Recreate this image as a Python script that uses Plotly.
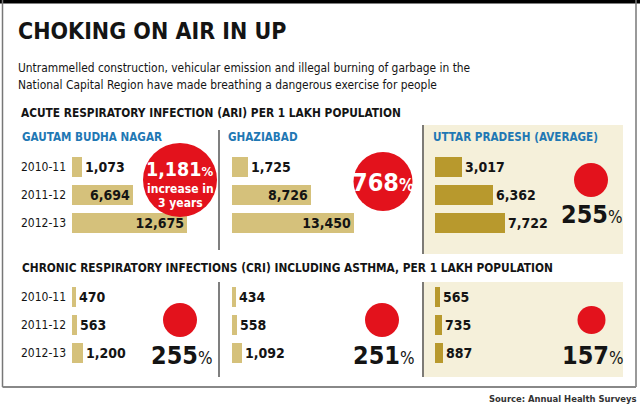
import plotly.graph_objects as go

# ---------------- data ----------------
years = ["2010-11", "2011-12", "2012-13"]
regions = ["GAUTAM BUDHA NAGAR", "GHAZIABAD", "UTTAR PRADESH (AVERAGE)"]
ari_gbn = [1073, 6694, 12675]
ari_gzb = [1725, 8726, 13450]
ari_up = [3017, 6362, 7722]
cri_gbn = [470, 563, 1200]
cri_gzb = [434, 558, 1092]
cri_up = [565, 735, 887]
ari_increase = [1181, 768, 255]
cri_increase = [255, 251, 157]

title = "CHOKING ON AIR IN UP"
subtitle = ["Untrammelled construction, vehicular emission and illegal burning of garbage in the",
            "National Capital Region have made breathing a dangerous exercise for people"]
ari_title = "ACUTE RESPIRATORY INFECTION (ARI) PER 1 LAKH POPULATION"
cri_title = "CHRONIC RESPIRATORY INFECTIONS (CRI) INCLUDING ASTHMA, PER 1 LAKH POPULATION"
source = "Source: Annual Health Surveys"

# ---------------- style ----------------
W, H = 640, 408
NARROW = "Liberation Sans Narrow, Arial Narrow, DejaVu Sans Condensed, sans-serif"
LIGHT = "#d5c17b"
DARK = "#b8992d"
BOX = "#f5f0da"
RED = "#e3121c"
BLUE = "#1f78b4"
INK = "#141414"
PX_PER_UNIT = 0.00905
AX_W = 140


def px(x):
    return x / W


def py(y):
    return 1 - y / H


fig = go.Figure()

panels = [
    # values, x start px, (top, bottom) px, colour, text positions
    (ari_gbn, 72, (153, 237), LIGHT, ["outside", "inside", "inside"]),
    (ari_gzb, 232, (153, 237), LIGHT, ["outside", "inside", "inside"]),
    (ari_up, 435, (153, 237), DARK, ["outside"] * 3),
    (cri_gbn, 72, (283, 367), LIGHT, ["outside"] * 3),
    (cri_gzb, 232, (283, 367), LIGHT, ["outside"] * 3),
    (cri_up, 435, (283, 367), DARK, ["outside"] * 3),
]

layout_axes = {}
for i, (vals, x0, (top, bot), col, tpos) in enumerate(panels):
    n = "" if i == 0 else str(i + 1)
    fig.add_trace(go.Bar(
        x=vals, y=[0, 1, 2], orientation="h",
        xaxis="x" + n, yaxis="y" + n,
        marker=dict(color=col, line=dict(width=0)),
        width=0.68,
        text=[f"{v:,}" for v in vals],
        textposition=tpos,
        insidetextanchor="end",
        constraintext="none",
        textfont=dict(family=NARROW, size=14, color=INK, weight="bold"),
        cliponaxis=False,
        hoverinfo="skip",
    ))
    layout_axes["xaxis" + n] = dict(
        domain=[px(x0), px(x0 + AX_W)], range=[0, AX_W / PX_PER_UNIT],
        anchor="y" + n, visible=False, fixedrange=True)
    layout_axes["yaxis" + n] = dict(
        domain=[py(bot), py(top)], range=[2.5, -0.5],
        anchor="x" + n, visible=False, fixedrange=True)

fig.update_layout(**layout_axes)

shapes = []
# UP boxes
for (y0, y1) in [(125, 254), (282, 377)]:
    shapes.append(dict(type="rect", xref="paper", yref="paper", layer="below",
                       x0=px(422), x1=px(623), y0=py(y1), y1=py(y0),
                       fillcolor=BOX, line=dict(width=0)))
    shapes.append(dict(type="line", xref="paper", yref="paper", layer="below",
                       x0=px(423), x1=px(423), y0=py(y1), y1=py(y0),
                       line=dict(color="#555", width=1.5)))
# dividers
for (y0, y1) in [(130, 250), (282, 377)]:
    shapes.append(dict(type="line", xref="paper", yref="paper",
                       x0=px(219), x1=px(219), y0=py(y1), y1=py(y0),
                       line=dict(color="#555", width=1.5)))
# frame
shapes.append(dict(type="rect", xref="paper", yref="paper", x0=0, x1=1,
                   y0=py(3.5), y1=1, fillcolor="#000", line=dict(width=0)))
shapes.append(dict(type="line", xref="paper", yref="paper", x0=px(2.5), x1=px(2.5),
                   y0=py(387), y1=1, line=dict(color="#777", width=1.5)))
shapes.append(dict(type="line", xref="paper", yref="paper", x0=px(636), x1=px(636),
                   y0=py(387), y1=1, line=dict(color="#777", width=1.5)))
shapes.append(dict(type="line", xref="paper", yref="paper", x0=px(2.5), x1=px(636),
                   y0=py(387), y1=py(387), line=dict(color="#888", width=2)))

# red badges: (cx, cy, r)
badges = [(180, 180, 37), (383, 181.5, 29.5), (591, 180, 17),
          (180, 320, 17), (382, 320, 17), (591.5, 320, 14)]
for cx, cy, r in badges:
    shapes.append(dict(type="circle", xref="paper", yref="paper",
                       x0=px(cx - r), x1=px(cx + r), y0=py(cy + r), y1=py(cy - r),
                       fillcolor=RED, line=dict(width=0)))
fig.update_layout(shapes=shapes)

ann = []


def text(x, y, s, size, color=INK, bold=True, xa="left", family=NARROW):
    ann.append(dict(x=px(x), y=py(y), xref="paper", yref="paper", text=s,
                    showarrow=False, xanchor=xa, yanchor="middle",
                    borderpad=0, font=dict(family=family, size=size, color=color,
                                           weight="bold" if bold else "normal")))


text(17, 31, title, 23)
text(17, 68, subtitle[0], 11.9, bold=False)
text(17, 85, subtitle[1], 11.9, bold=False)
text(20, 113, ari_title, 11.8)
text(21, 268, cri_title, 11.8)
text(21, 137, regions[0], 11.6, color=BLUE)
text(227, 137, regions[1], 11.6, color=BLUE)
text(432, 137, regions[2], 11.6, color=BLUE)
text(637, 398, source, 9.4, color="#333", xa="right")

for cy in [(167, 195, 223), (297, 325, 353)]:
    for yr, y in zip(years, cy):
        text(67, y, yr, 12, bold=False, xa="right")

# badge texts
pct_small = "<span style='font-size:{}px'>%</span>"
pct_light = "<span style='font-size:{}px;font-weight:normal'>%</span>"
text(180, 169, f"{ari_increase[0]:,}" + pct_small.format(13), 19.5, color="white", xa="center")
text(180, 189, "increase in", 12, color="white", xa="center")
text(180, 203, "3 years", 12, color="white", xa="center")
text(383, 182, f"{ari_increase[1]:,}" + pct_small.format(17), 25, color="white", xa="center")
text(592, 214, f"{ari_increase[2]:,}" + pct_light.format(17), 25, xa="center")
for (x, v) in zip([182, 384, 593], cri_increase):
    text(x, 355, f"{v:,}" + pct_light.format(17), 25, xa="center")

fig.update_layout(
    annotations=ann,
    width=W, height=H,
    margin=dict(l=0, r=0, t=0, b=0),
    paper_bgcolor="white", plot_bgcolor="rgba(0,0,0,0)",
    showlegend=False, bargap=0,
)

fig.write_html("out.html")
